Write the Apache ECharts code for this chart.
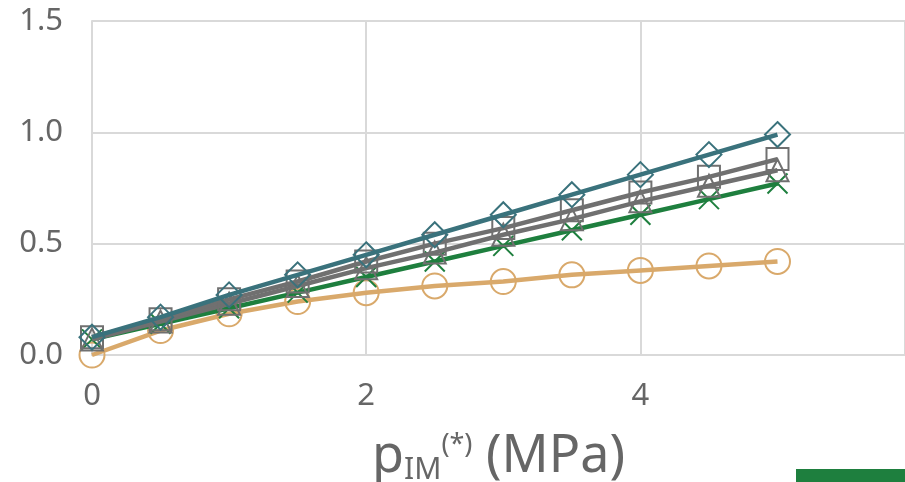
<!DOCTYPE html>
<html><head><meta charset="utf-8">
<script src="https://cdn.jsdelivr.net/npm/echarts@6/dist/echarts.min.js"></script>
<style>html,body{margin:0;padding:0;background:#fff}#c{width:905px;height:482px}</style>
</head><body><div id="c"></div>
<script>
const xValues = [0, 0.5, 1, 1.5, 2, 2.5, 3, 3.5, 4, 4.5, 5];
const diamondSeries = [0.08, 0.17, 0.27, 0.36, 0.45, 0.54, 0.63, 0.72, 0.81, 0.90, 0.99];
const squareSeries = [0.08, 0.16, 0.25, 0.33, 0.42, 0.50, 0.57, 0.65, 0.73, 0.80, 0.88];
const triangleSeries = [0.07, 0.15, 0.23, 0.31, 0.39, 0.46, 0.54, 0.61, 0.69, 0.76, 0.83];
const crossSeries = [0.07, 0.14, 0.21, 0.28, 0.35, 0.42, 0.49, 0.56, 0.63, 0.70, 0.77];
const circleSeries = [0.0, 0.11, 0.185, 0.24, 0.28, 0.31, 0.33, 0.36, 0.38, 0.40, 0.42];
const yTicks = ['0.0', '0.5', '1.0', '1.5'];

const chart = echarts.init(document.getElementById('c'));
const pair = arr => xValues.map((x, i) => [x, arr[i]]);
function mk(name, data, color, symbol, size, z) {
  return {
    name, type: 'line', data: pair(data), z,
    symbol, symbolSize: size,
    lineStyle: { color, width: 4.5 },
    itemStyle: { color: 'none', borderColor: color, borderWidth: 2 },
    emphasis: { disabled: true }
  };
}
const txt = '#666666';
chart.setOption({
  animation: false,
  grid: { left: 92, right: 0, top: 21, bottom: 127, containLabel: false, outerBoundsMode: 'none' },
  xAxis: {
    type: 'value', min: 0, max: 5.93, interval: 2,
    axisLine: { show: true, lineStyle: { color: '#d9d9d9', width: 2 } },
    axisTick: { show: false },
    splitLine: { show: true, lineStyle: { color: '#d9d9d9', width: 2 } },
    axisLabel: { color: txt, fontSize: 31, fontFamily: 'Noto Sans', margin: 26, showMaxLabel: false },
    name: '{p|p}{s|IM}{u|(*)}{p| (MPa)}',
    nameLocation: 'middle', nameGap: 74,
    nameTextStyle: {
      rich: {
        p: { fontSize: 52, color: txt, fontFamily: 'Noto Sans' },
        s: { fontSize: 30, color: txt, fontFamily: 'Noto Sans', verticalAlign: 'bottom', padding: [26, 0, 0, 0] },
        u: { fontSize: 27, color: txt, fontFamily: 'Noto Sans', padding: [0, 0, 24, 0] }
      }
    }
  },
  yAxis: {
    type: 'value', min: 0, max: 1.5, interval: 0.5,
    axisLine: { show: true, lineStyle: { color: '#d9d9d9', width: 2 } },
    axisTick: { show: false },
    splitLine: { show: true, lineStyle: { color: '#d9d9d9', width: 2 } },
    axisLabel: { color: txt, fontSize: 31, fontFamily: 'Noto Sans', margin: 29,
      formatter: v => yTicks[Math.round(v / 0.5)] }
  },
  series: [
    mk('circle', circleSeries, '#d9a96b', 'circle', 25, 2),
    mk('cross', crossSeries, '#1e7f3e', 'path://M-1,-1L1,1M1,-1L-1,1', 20, 3),
    mk('triangle', triangleSeries, '#707070', 'triangle', 22, 4),
    mk('square', squareSeries, '#707070', 'rect', 22, 5),
    mk('diamond', diamondSeries, '#3a727c', 'path://M0,-1L1,0L0,1L-1,0Z', 25, 6)
  ],
  graphic: [{ type: 'rect', shape: { x: 796, y: 469, width: 109, height: 13 }, style: { fill: '#1e7f3e' } }]
});
</script></body></html>
